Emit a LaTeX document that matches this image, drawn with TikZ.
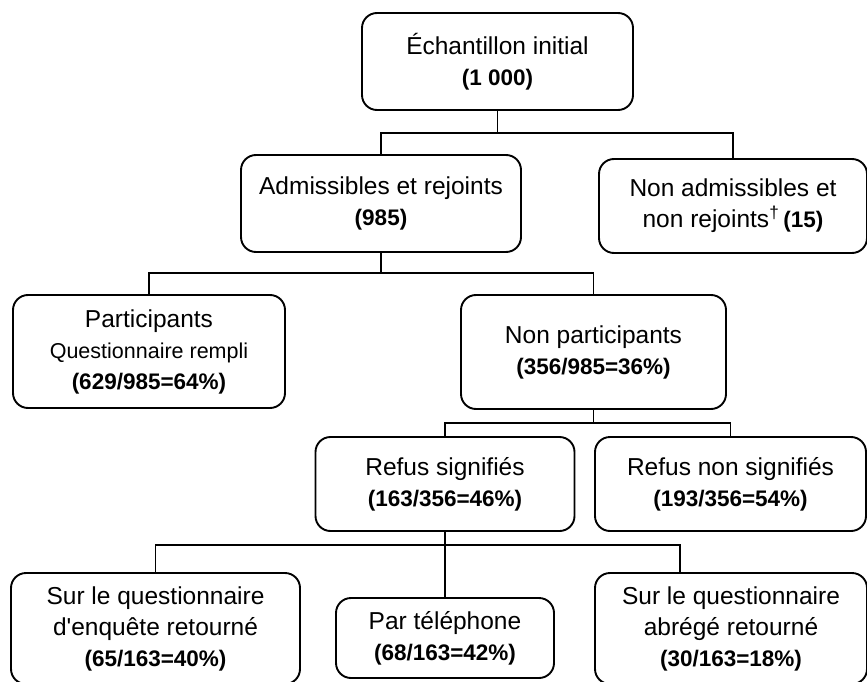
\documentclass[tikz,border=0pt]{standalone}
\usepackage{fontspec}
\setmainfont{Liberation Sans}
\newfontfamily\straightfont[Ligatures=TeXOff]{Liberation Sans}
\begin{document}
\begin{tikzpicture}[x=1pt,y=-1pt,
  box/.style={draw=black, line width=1.9pt, rounded corners=15pt, align=center, inner sep=0pt,
    font=\fontsize{24.5}{31}\selectfont, text=black},
  conn/.style={draw=black, line width=1.9pt}]
\newcommand{\bnum}[1]{{\fontsize{22.5}{31}\selectfont\bfseries #1}}
\useasboundingbox (0,0) rectangle (867,682);

\node[box, minimum width=271pt, minimum height=97pt] (top) at (497.5,61.5)
  {Échantillon initial\\\bnum{(1 000)}};
\node[box, minimum width=280pt, minimum height=97pt] (adm) at (381,203.5)
  {Admissibles et rejoints\\\bnum{(985)}};
\node[box, minimum width=268pt, minimum height=94pt] (nadm) at (733,206)
  {Non admissibles et\\non rejoints\textsuperscript{†}\,\bnum{(15)}};
\node[box, minimum width=272pt, minimum height=113pt] (part) at (149,351.5)
  {Participants\\{\fontsize{21.5}{31}\selectfont Questionnaire rempli}\\\bnum{(629/985=64\%)}};
\node[box, minimum width=265pt, minimum height=114pt] (npart) at (593.5,352)
  {Non participants\\\bnum{(356/985=36\%)}};
\node[box, minimum width=259pt, minimum height=94pt] (rs) at (445,484)
  {Refus signifiés\\\bnum{(163/356=46\%)}};
\node[box, minimum width=271pt, minimum height=94pt] (rns) at (730.5,484)
  {Refus non signifiés\\\bnum{(193/356=54\%)}};
\node[box, minimum width=289pt, minimum height=111pt] (b1) at (155.5,628.5)
  {Sur le questionnaire\\{\straightfont d'enquête retourné}\\\bnum{(65/163=40\%)}};
\node[box, minimum width=218pt, minimum height=80pt] (b2) at (445,638)
  {Par téléphone\\\bnum{(68/163=42\%)}};
\node[box, minimum width=272pt, minimum height=111pt] (b3) at (731,628.5)
  {Sur le questionnaire\\abrégé retourné\\\bnum{(30/163=18\%)}};

\coordinate (j1) at (497.5,133);
\coordinate (j2) at (381,273);
\coordinate (j3) at (593.5,423);
\coordinate (j4) at (445,545);

\draw[conn] (top.south) -- (j1);
\draw[conn] (adm.north) |- (j1) -| (nadm.north);
\draw[conn] (adm.south) -- (j2);
\draw[conn] (part.north) |- (j2) -| (npart.north);
\draw[conn] (npart.south) -- (j3);
\draw[conn] (rs.north) |- (j3) -| (rns.north);
\draw[conn] (rs.south) -- (b2.north);
\draw[conn] (b1.north) |- (j4) -| ([xshift=-51pt]b3.north);
\end{tikzpicture}
\end{document}
